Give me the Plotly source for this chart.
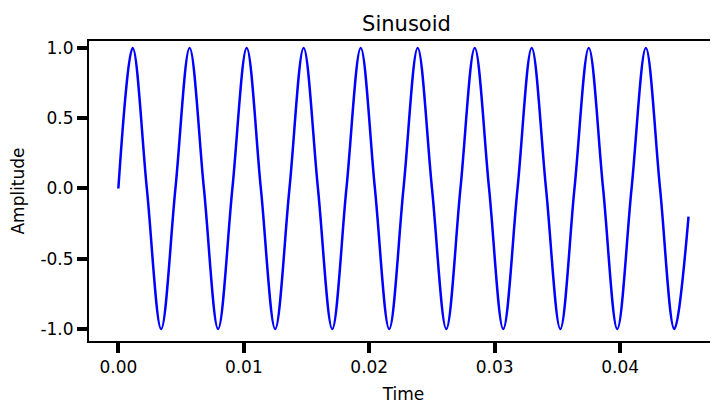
import plotly.graph_objects as go

# pontos (quartos de periodo)
tempo = [0.0, 0.00114, 0.00227, 0.00341, 0.00455, 0.00568, 0.00682, 0.00795, 0.00909, 0.01023,
         0.01136, 0.0125, 0.01364, 0.01477, 0.01591, 0.01705, 0.01818, 0.01932, 0.02045, 0.02159,
         0.02273, 0.02386, 0.025, 0.02614, 0.02727, 0.02841, 0.02955, 0.03068, 0.03182, 0.03295,
         0.03409, 0.03523, 0.03636, 0.0375, 0.03864, 0.03977, 0.04091, 0.04205, 0.04318, 0.04432,
         0.04545]
amplitude = [0.0, 1.0, 0.0, -1.0, 0.0, 1.0, 0.0, -1.0, 0.0, 1.0,
             0.0, -1.0, 0.0, 1.0, 0.0, -1.0, 0.0, 1.0, 0.0, -1.0,
             0.0, 1.0, 0.0, -1.0, 0.0, 1.0, 0.0, -1.0, 0.0, 1.0,
             0.0, -1.0, 0.0, 1.0, 0.0, -1.0, 0.0, 1.0, 0.0, -1.0,
             -0.2]
xticks = [0.0, 0.01, 0.02, 0.03, 0.04]
xlabels = ["0.00", "0.01", "0.02", "0.03", "0.04"]
yticks = [-1.0, -0.5, 0.0, 0.5, 1.0]
ylabels = ["-1.0", "-0.5", "0.0", "0.5", "1.0"]

fig = go.Figure()
fig.add_trace(go.Scatter(x=tempo, y=amplitude, mode='lines',
                         line=dict(color='blue', width=2.5, shape='spline', smoothing=1.0)))

fig.update_layout(
    width=718, height=413, showlegend=False,
    plot_bgcolor='white', paper_bgcolor='white',
    margin=dict(l=81, r=8, t=33, b=80),
    font=dict(family='DejaVu Sans', size=17, color='black'),
    title=dict(text='Sinusoid', x=0.555, xanchor='center', y=0.98, yanchor='top',
               font=dict(size=21)),
)
fig.update_xaxes(range=[-0.00234, 0.0478], tickvals=xticks, ticktext=xlabels, automargin=False,
                 showgrid=False, zeroline=False, showline=True, linecolor='black', linewidth=2,
                 mirror=True, ticks='outside', ticklen=10, tickwidth=4, tickcolor='black',
                 title=dict(text='Time', font=dict(size=17), standoff=12))
fig.update_yaxes(range=[-1.086, 1.05], tickvals=yticks, ticktext=ylabels, automargin=False,
                 showgrid=False, zeroline=False, showline=True, linecolor='black', linewidth=2,
                 mirror=True, ticks='outside', ticklen=10, tickwidth=4, tickcolor='black',
                 title=dict(text='Amplitude', font=dict(size=17), standoff=12))

fig.write_html("out.html")
